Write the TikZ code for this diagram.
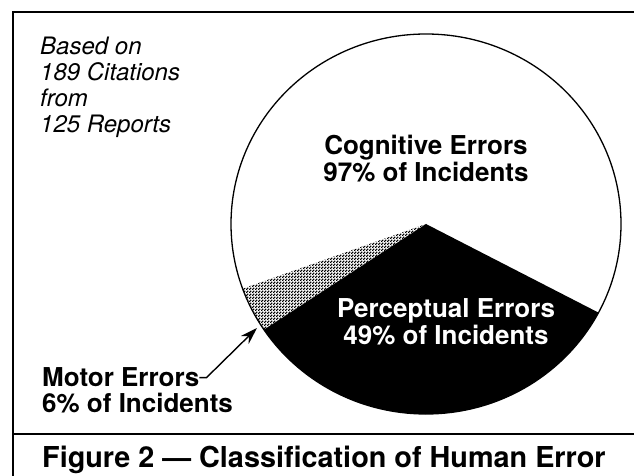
\documentclass[tikz,border=0pt]{standalone}
\usepackage{fontspec}
\setmainfont{TeX Gyre Heros}
\usetikzlibrary{patterns.meta,arrows.meta}

\tikzdeclarepattern{name=checks,type=uncolored,bottom left={(0,0)},top right={(3pt,3pt)},tile size={(3pt,3pt)},
    code={\fill(0,0)rectangle(1.7pt,1.7pt);\fill(1.5pt,1.5pt)rectangle(3pt,3pt);}}

\begin{document}
\begin{tikzpicture}[x=1pt,y=1pt,
    note/.style={font=\fontsize{24}{26}\selectfont\itshape,align=left,inner sep=0pt},
    lbl/.style={font=\fontsize{26}{27}\selectfont\bfseries,align=center,inner sep=0pt},
    ]
        \useasboundingbox(0,0)rectangle(634,476);
        % frame
        \draw[line width=2.5pt](13,0)--(13,464)--(634,464);
        \draw[line width=2pt](13,42)--(634,42);
        % pie
        \coordinate(ctr)at(426,252);
        \fill[black](ctr)--++(213.8:195 and 190)arc(213.8:332.2:195 and 190)--cycle;
        \fill[pattern=checks](ctr)--++(199.9:195 and 190)arc(199.9:213.8:195 and 190)--cycle;
        \draw[line width=1.3pt](ctr)ellipse(195 and 190);
        \node[lbl,anchor=base](cog)at(426,294){Cognitive Errors\\97\% of Incidents};
        \node[lbl,anchor=base,text=white](perc)at(446,131){Perceptual Errors\\49\% of Incidents};
        % notes
        \node[note,anchor=base west](basis)at(40,343){Based on\\189 Citations\\from\\125 Reports};
        \node[lbl,anchor=base west](motor)at(42,89){Motor Errors};
        \node[lbl,anchor=base west](motorpct)at(42,63){6\% of Incidents};
        \coordinate(motortip)at(257,148);
        \draw[-{Stealth[length=17pt,width=11pt]},line width=1.4pt](motor.east)--++(7,0)--(motortip);
        \node[font=\fontsize{28.8}{30}\selectfont\bfseries,anchor=base west,inner sep=0pt](caption)at(42,8){Figure 2 --- Classification of Human Error};
    \end{tikzpicture}
\end{document}
